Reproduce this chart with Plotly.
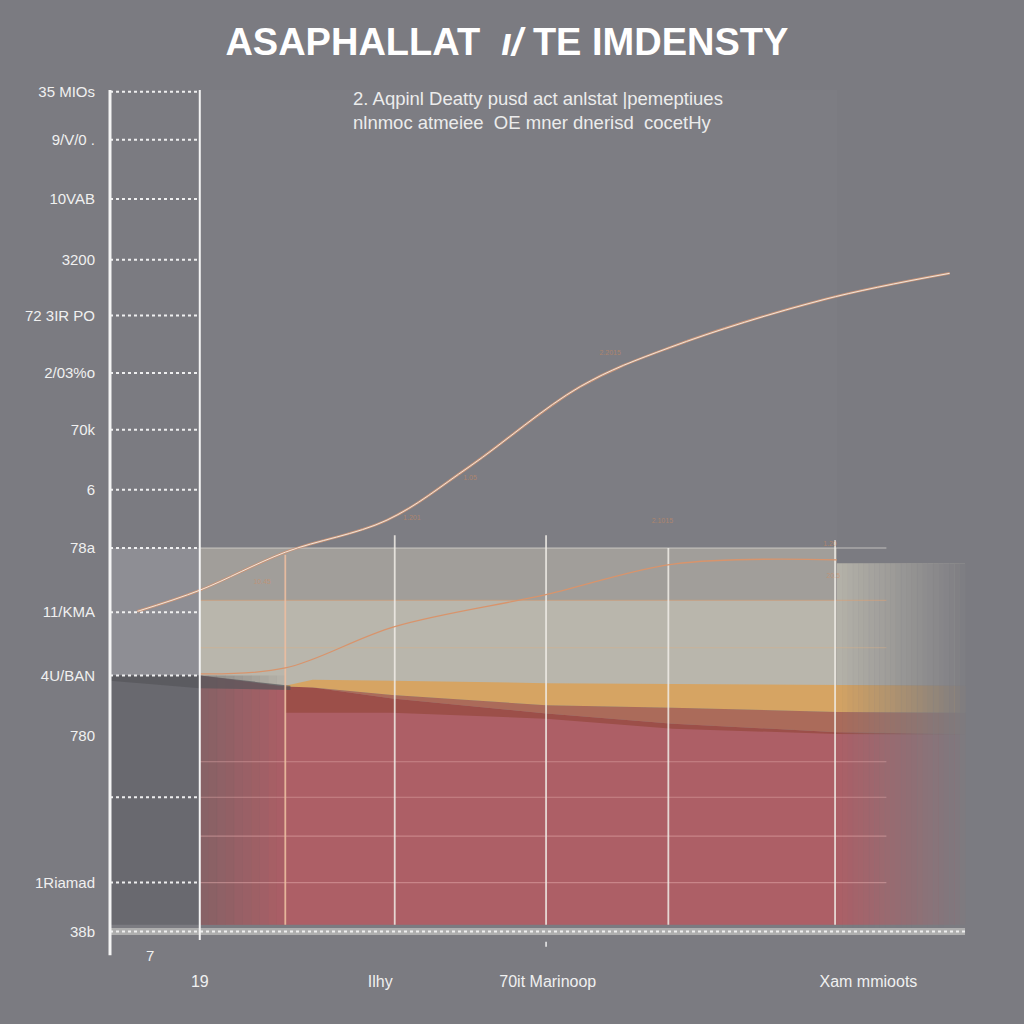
import plotly.graph_objects as go

# ---------------- data ----------------
TITLE = "<b>ASAPHALLAT  <i>ı/</i> TE IMDENSTY</b>"
SUBTITLE = ["2. Aqpinl Deatty pusd act anlstat |pemeptiues",
            "nlnmoc atmeiee  OE mner dnerisd  cocetHy"]

Y_TICK_VALS = [99.8, 94.1, 87.1, 79.9, 73.3, 66.5, 59.8, 52.7, 45.8, 38.2, 30.7, 23.6, 16.3, 6.2, 0.4]
Y_TICK_TEXT = ["35 MIOs", "9/V/0 .", "10VAB", "3200", "72 3IR PO", "2/03%o", "70k", "6",
               "78a", "11/KMA", "4U/BAN", "780", "", "1Riamad", "38b"]
LEFT_GRID = [99.8, 94.1, 87.1, 79.9, 73.3, 66.5, 59.8, 52.7, 45.8, 38.2, 30.7, 16.3, 6.2]

X_TICK_VALS = [10.5, 31.6, 51.2, 88.7]
X_TICK_TEXT = ["19", "Ilhy", "70it Marinoop", "Xam mmioots"]
X_EXTRA_LABEL = ("7", 4.7, -2.4)

# rising curve
MAIN_X = [3.2, 10.5, 20.5, 32.4, 42.0, 55.0, 65.4, 83.5, 98.2]
MAIN_Y = [38.3, 40.8, 45.3, 49.1, 55.4, 64.9, 69.5, 75.2, 78.3]
# lower orange curve
LINE2_X = [10.5, 20.5, 33.3, 51.1, 65.9, 85.0]
LINE2_Y = [30.9, 31.6, 36.5, 40.3, 43.9, 44.4]

# bands
BAND_X = [10.5, 85.0]
UPPER_BAND = [39.6, 45.8]
BEIGE_BAND = [29.5, 39.6]
RIGHT_BEIGE = [29.5, 44.0]
LEFT_MID = [30.7, 45.8]
LEFT_LOW = [1.2, 30.7]
RED_BOTTOM = 1.2

LOWER_X = [20.5, 23.7, 33.0, 51.0, 65.8, 85.0, 100.0]
ORANGE_TOP = [29.5, 30.2, 30.1, 29.8, 29.7, 29.6, 29.5]
ORANGE_BOT = [29.4, 29.3, 28.4, 27.2, 26.9, 26.4, 26.3]
BROWN_BOT = [29.4, 29.3, 28.0, 26.2, 25.0, 24.0, 23.8]
DARK_BOT = [26.3, 26.3, 26.3, 25.6, 24.4, 23.8, 23.7]

VERT_X = [20.5, 33.3, 51.0, 65.3, 84.8]
VERT_TOP = [45.0, 47.3, 47.3, 45.8, 46.7]
RED_GRID = [20.5, 16.3, 11.7, 6.2]
BAND_LINES = [45.8, 39.6, 34.0]

LABEL_X = [58.5, 42.1, 35.3, 17.8, 64.6, 84.2, 84.6]
LABEL_Y = [68.9, 54.1, 49.3, 41.7, 49.0, 46.2, 42.4]
LABEL_TEXT = ["2.2015", "1.05", "1.201", "10.45", "2.1015", "1.20", "20.5"]

# ---------------- figure ----------------
BG = "#7b7b81"
SANS = "Liberation Sans, Arial, sans-serif"
fig = go.Figure()


def poly(xs, ys, color):
    fig.add_trace(go.Scatter(x=xs, y=ys, fill="toself", fillcolor=color, mode="lines",
                             line=dict(width=0), hoverinfo="skip", showlegend=False))


def rect(x0, x1, y0, y1, color):
    poly([x0, x1, x1, x0, x0], [y0, y0, y1, y1, y0], color)


def seg(xs, ys, color, width, dash="solid", shape="linear"):
    fig.add_trace(go.Scatter(x=xs, y=ys, mode="lines", hoverinfo="skip", showlegend=False,
                             line=dict(color=color, width=width, dash=dash, shape=shape)))


# faint lighter panel above the band
rect(BAND_X[0], BAND_X[1], UPPER_BAND[1], 100, "rgba(140,140,146,0.15)")
# left panel
rect(0, BAND_X[0], LEFT_MID[0], LEFT_MID[1], "#8e8e94")
rect(0, BAND_X[0], LEFT_LOW[0], LEFT_LOW[1], "#69696f")
# bands
rect(BAND_X[0], BAND_X[1], UPPER_BAND[0], UPPER_BAND[1], "#a19e9a")
rect(BAND_X[0], BAND_X[1], BEIGE_BAND[0], BEIGE_BAND[1], "#b9b6ac")
rect(BAND_X[1], 100, RIGHT_BEIGE[0], RIGHT_BEIGE[1], "#b6b3aa")
# red body
red_x = [BAND_X[0]] + LOWER_X
red_top = [30.7] + BROWN_BOT
poly(red_x + red_x[::-1], red_top + [RED_BOTTOM] * len(red_x), "#ad5f66")
# dark red, brown, orange layers
poly(LOWER_X + LOWER_X[::-1], BROWN_BOT + DARK_BOT[::-1], "#9c4f49")
poly(LOWER_X + LOWER_X[::-1], ORANGE_BOT + BROWN_BOT[::-1], "#ab6b5a")
poly(LOWER_X + LOWER_X[::-1], ORANGE_TOP + ORANGE_BOT[::-1], "#d6a463")

# left darkening of the red
n = 10
for i in range(n):
    xa = BAND_X[0] + (LOWER_X[0] - BAND_X[0]) * i / n
    xb = BAND_X[0] + (LOWER_X[0] - BAND_X[0]) * (i + 1) / n + 0.02
    rect(xa, xb, RED_BOTTOM, 30.7, f"rgba(105,100,102,{0.55 * (1 - i / n):.3f})")
# dark wedge below the band
poly([0, 10.5, 21.1, 21.1, 10.5, 0], [30.7, 30.7, 29.5, 29.0, 29.2, 30.1], "rgba(85,85,90,0.7)")

# right fade into the background
n = 24
for i in range(n):
    xa = BAND_X[1] + (100 - BAND_X[1]) * i / n
    xb = BAND_X[1] + (100 - BAND_X[1]) * (i + 1) / n + 0.03
    rect(xa, xb, RED_BOTTOM - 0.4, RIGHT_BEIGE[1], f"rgba(123,123,129,{0.95 * (i + 1) / n:.3f})")

# horizontal lines in band & red area
for yv, col in zip(BAND_LINES, ["rgba(225,222,215,0.7)", "rgba(215,160,120,0.55)", "rgba(215,175,135,0.4)"]):
    seg([BAND_X[0], 90.8], [yv, yv], col, 1.2)
for yv in RED_GRID:
    seg([BAND_X[0], 90.8], [yv, yv], "rgba(235,180,180,0.45)", 1.1)

# vertical lines
for i, (xv, yt) in enumerate(zip(VERT_X, VERT_TOP)):
    col = "rgba(235,190,160,0.9)" if i == 0 else "rgba(240,236,230,0.85)"
    seg([xv, xv], [RED_BOTTOM, yt], col, 1.8)

# left-panel dotted gridlines
gx, gy = [], []
for yv in LEFT_GRID:
    gx += [0, BAND_X[0], None]
    gy += [yv, yv, None]
seg(gx, gy, "rgba(245,245,245,0.95)", 2, dash="dot")

# curves
seg(LINE2_X, LINE2_Y, "#d8946c", 1.3, shape="spline")
seg(MAIN_X, MAIN_Y, "#c99478", 2.6, shape="spline")
seg(MAIN_X, MAIN_Y, "#f1e6da", 1.0, shape="spline")

# axes drawn as lines
seg([0, 100], [0.4, 0.4], "#aeaeae", 7)
seg([0, 100], [0.4, 0.4], "rgba(245,245,245,0.9)", 2, dash="dot")
seg([0, 0], [-2.4, 100], "#f4f4f4", 3)
seg([BAND_X[0], BAND_X[0]], [-0.6, 100], "#f4f4f4", 2)
seg([51.0, 51.0], [-0.8, -1.4], "#eeeeee", 1.5)

# tiny orange point labels
fig.add_trace(go.Scatter(x=LABEL_X, y=LABEL_Y, mode="text", text=LABEL_TEXT, hoverinfo="skip",
                         showlegend=False,
                         textfont=dict(size=7, color="rgba(215,140,90,0.55)", family=SANS)))

fig.add_annotation(x=X_EXTRA_LABEL[1], y=X_EXTRA_LABEL[2], text=X_EXTRA_LABEL[0], showarrow=False,
                   font=dict(size=15, color="#f0f0f0", family=SANS))
fig.add_annotation(xref="paper", yref="paper", x=0.285, y=0.993, xanchor="left", yanchor="top",
                   align="left", showarrow=False, text="<br>".join(SUBTITLE),
                   font=dict(size=18.5, color="#ececec", family=SANS))

fig.update_layout(
    width=1024, height=1024,
    margin=dict(l=100, r=44, t=80, b=59),
    paper_bgcolor=BG, plot_bgcolor=BG, showlegend=False,
    title=dict(text=TITLE, x=0.495, xanchor="center", y=0.959, yanchor="middle",
               font=dict(size=38, color="#ffffff", family=SANS)),
    xaxis=dict(range=[-1.17, 101.75], showgrid=False, zeroline=False, showline=False,
               tickvals=X_TICK_VALS, ticktext=X_TICK_TEXT, ticks="outside", ticklen=2,
               tickcolor="rgba(0,0,0,0)", tickfont=dict(size=16, color="#f0f0f0", family=SANS)),
    yaxis=dict(range=[-3.55, 101.18], showgrid=False, zeroline=False, showline=False,
               tickvals=Y_TICK_VALS, ticktext=Y_TICK_TEXT, ticks="outside", ticklen=1,
               tickcolor="rgba(0,0,0,0)", tickfont=dict(size=15, color="#f0f0f0", family=SANS)),
)

fig.write_html("out.html")
